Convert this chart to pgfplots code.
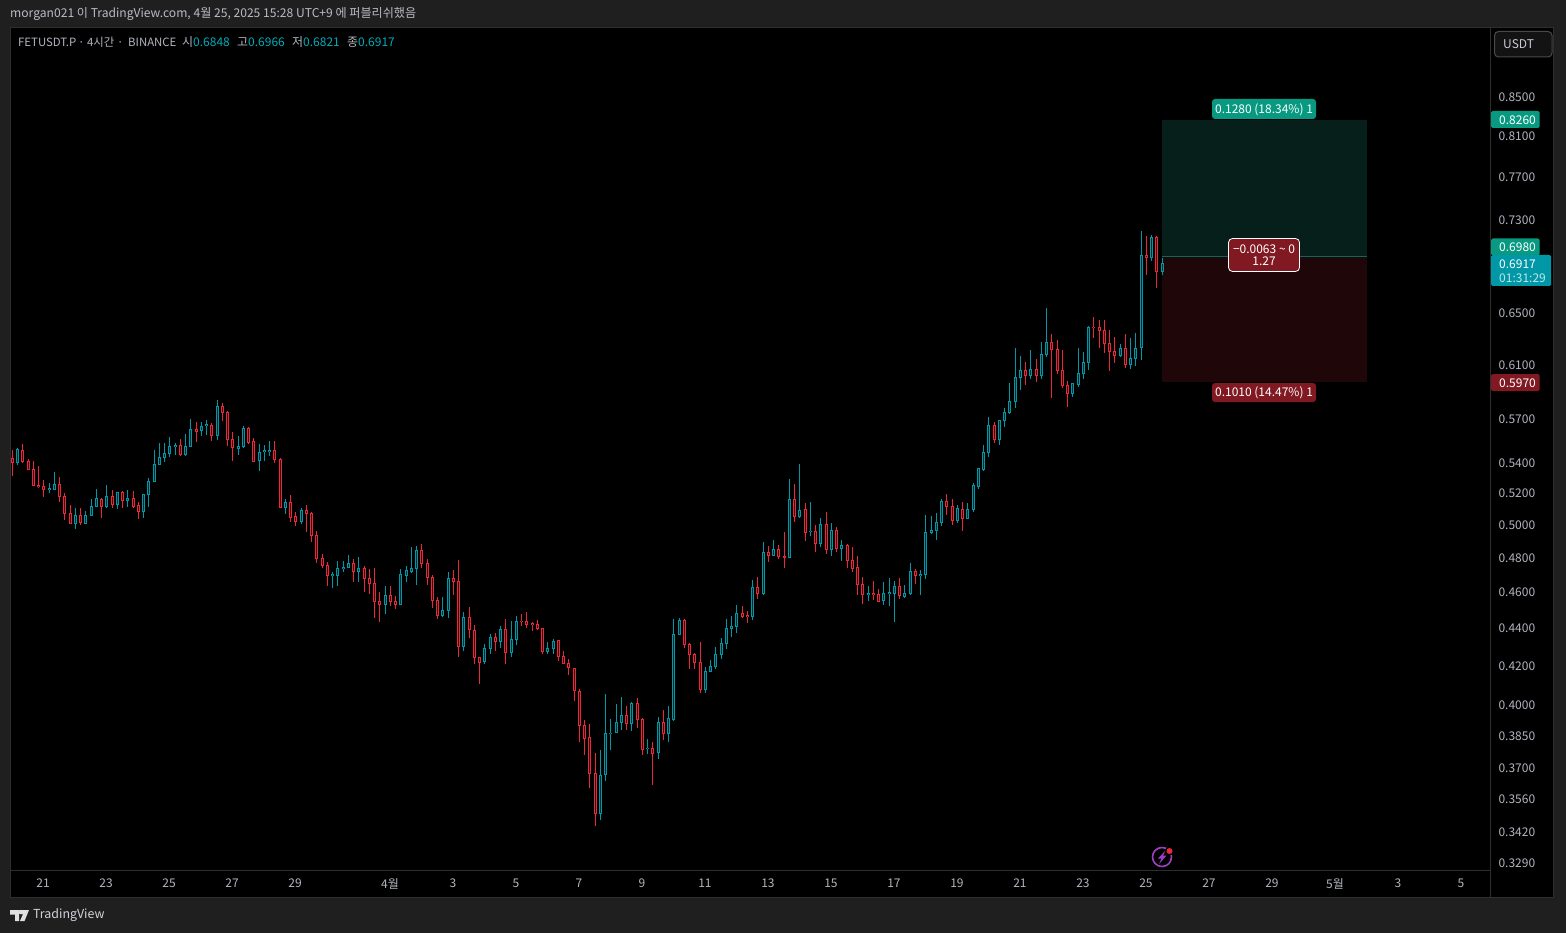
\documentclass[border=0pt]{standalone}
\usepackage{fontspec}
\usepackage{pgfplots}
\usepackage{pgfplotstable}
\pgfplotsset{compat=1.18}
\setmainfont{Noto Sans CJK KR}
\definecolor{frame}{HTML}{1F1F1F}
\definecolor{pane}{HTML}{2E2E2E}
\definecolor{tick}{HTML}{B2B5BE}
\definecolor{up}{HTML}{0097A7}
\definecolor{dn}{HTML}{E9283C}
\definecolor{upin}{HTML}{00262B}
\definecolor{dnin}{HTML}{33080D}
\definecolor{tpz}{HTML}{061F1A}
\definecolor{slz}{HTML}{1F0709}
\definecolor{tp}{HTML}{089981}
\definecolor{sl}{HTML}{801922}
\definecolor{btn}{HTML}{4A4A4A}
\pgfplotstableread{
i o h l c
0 .5432 .5489 .5315 .5403
1 .5403 .5500 .5390 .5493
2 .5487 .5530 .5403 .5408
3 .5412 .5430 .5354 .5359
4 .5359 .5414 .5249 .5251
5 .5255 .5381 .5234 .5245
6 .5247 .5288 .5180 .5225
7 .5225 .5268 .5206 .5232
8 .5227 .5339 .5223 .5260
9 .5260 .5306 .5148 .5182
10 .5182 .5204 .5035 .5072
11 .5074 .5125 .5008 .5010
12 .5010 .5108 .4979 .5062
13 .5062 .5108 .5004 .5014
14 .5010 .5087 .5008 .5062
15 .5062 .5165 .5058 .5118
16 .5116 .5229 .5114 .5170
17 .5163 .5170 .5045 .5116
18 .5116 .5253 .5110 .5182
19 .5182 .5223 .5110 .5127
20 .5129 .5210 .5101 .5208
21 .5210 .5217 .5110 .5155
22 .5157 .5223 .5114 .5170
23 .5170 .5217 .5106 .5116
24 .5125 .5144 .5039 .5085
25 .5085 .5198 .5045 .5195
26 .5193 .5299 .5114 .5279
27 .5277 .5489 .5275 .5392
28 .5390 .5536 .5387 .5439
29 .5437 .5539 .5408 .5466
30 .5464 .5578 .5443 .5513
31 .5511 .5536 .5457 .5520
32 .5520 .5562 .5450 .5455
33 .5457 .5599 .5450 .5513
34 .5513 .5704 .5511 .5632
35 .5632 .5683 .5545 .5615
36 .5622 .5680 .5585 .5652
37 .5659 .5694 .5592 .5662
38 .5659 .5675 .5552 .5587
39 .5589 .5840 .5557 .5793
40 .5793 .5815 .5692 .5749
41 .5751 .5758 .5516 .5559
42 .5559 .5610 .5417 .5507
43 .5498 .5585 .5457 .5513
44 .5511 .5655 .5502 .5638
45 .5638 .5645 .5532 .5543
46 .5548 .5568 .5408 .5414
47 .5419 .5527 .5347 .5473
48 .5480 .5522 .5414 .5482
49 .5478 .5550 .5450 .5487
50 .5487 .5550 .5403 .5423
51 .5425 .5432 .5110 .5112
52 .5112 .5163 .5072 .5144
53 .5144 .5189 .5020 .5047
54 .5056 .5080 .4997 .5025
55 .5020 .5108 .5010 .5093
56 .5093 .5127 .4958 .5072
57 .5074 .5080 .4897 .4936
58 .4938 .4963 .4772 .4797
59 .4799 .4823 .4742 .4756
60 .4758 .4778 .4637 .4698
61 .4698 .4719 .4625 .4702
62 .4698 .4783 .4637 .4741
63 .4739 .4783 .4719 .4743
64 .4744 .4817 .4742 .4770
65 .4770 .4793 .4661 .4721
66 .4721 .4807 .4661 .4741
67 .4741 .4752 .4603 .4680
68 .4682 .4735 .4591 .4651
69 .4653 .4741 .4458 .4549
70 .4551 .4601 .4435 .4532
71 .4532 .4637 .4479 .4584
72 .4584 .4637 .4524 .4549
73 .4551 .4580 .4507 .4532
74 .4532 .4735 .4530 .4702
75 .4700 .4754 .4661 .4725
76 .4719 .4867 .4713 .4741
77 .4739 .4873 .4643 .4847
78 .4847 .4885 .4741 .4768
79 .4770 .4793 .4643 .4686
80 .4688 .4700 .4513 .4554
81 .4556 .4573 .4452 .4470
82 .4470 .4573 .4463 .4500
83 .4498 .4719 .4458 .4682
84 .4682 .4731 .4586 .4665
85 .4665 .4789 .4247 .4303
86 .4303 .4489 .4278 .4461
87 .4461 .4516 .4349 .4394
88 .4390 .4417 .4211 .4244
89 .4245 .4246 .4108 .4218
90 .4223 .4315 .4211 .4294
91 .4292 .4367 .4263 .4353
92 .4353 .4376 .4280 .4331
93 .4331 .4412 .4296 .4396
94 .4396 .4450 .4211 .4270
95 .4270 .4439 .4247 .4342
96 .4340 .4467 .4311 .4439
97 .4439 .4479 .4414 .4435
98 .4439 .4489 .4403 .4421
99 .4426 .4433 .4387 .4423
100 .4423 .4444 .4392 .4399
101 .4401 .4403 .4263 .4276
102 .4276 .4327 .4263 .4294
103 .4292 .4342 .4263 .4331
104 .4333 .4338 .4227 .4249
105 .4251 .4280 .4211 .4212
106 .4214 .4237 .4154 .4192
107 .4187 .4191 .4023 .4073
108 .4070 .4080 .3821 .3901
109 .3902 .3926 .3761 .3837
110 .3844 .3907 .3610 .3675
111 .3676 .3769 .3445 .3498
112 .3498 .3784 .3470 .3667
113 .3670 .4056 .3642 .3863
114 .3861 .3931 .3784 .3865
115 .3866 .4007 .3865 .3917
116 .3915 .4041 .3879 .3950
117 .3950 .3996 .3879 .3910
118 .3910 .4016 .3874 .4010
119 .4010 .4036 .3889 .3930
120 .3931 .3936 .3761 .3786
121 .3790 .3836 .3766 .3793
122 .3792 .3821 .3623 .3770
123 .3771 .3942 .3742 .3917
124 .3917 .3977 .3831 .3861
125 .3861 .3996 .3821 .3936
126 .3930 .4451 .3925 .4368
127 .4366 .4455 .4364 .4444
128 .4444 .4450 .4294 .4312
129 .4314 .4319 .4184 .4259
130 .4261 .4266 .4184 .4216
131 .4218 .4326 .4063 .4077
132 .4077 .4194 .4062 .4172
133 .4170 .4231 .4168 .4198
134 .4196 .4299 .4184 .4261
135 .4261 .4348 .4236 .4319
136 .4317 .4451 .4288 .4400
137 .4398 .4468 .4353 .4411
138 .4411 .4529 .4375 .4483
139 .4483 .4525 .4458 .4465
140 .4469 .4495 .4430 .4465
141 .4465 .4672 .4447 .4630
142 .4630 .4690 .4564 .4594
143 .4594 .4895 .4587 .4835
144 .4835 .4871 .4777 .4815
145 .4815 .4909 .4813 .4853
146 .4853 .4879 .4795 .4809
147 .4811 .4956 .4742 .4805
148 .4805 .5293 .4803 .5163
149 .5163 .5262 .5020 .5053
150 .5053 .5394 .5045 .5093
151 .5099 .5140 .4903 .4954
152 .4960 .5146 .4934 .4964
153 .4962 .5002 .4837 .4887
154 .4887 .5043 .4867 .5006
155 .5006 .5083 .4825 .4851
156 .4851 .5012 .4813 .4969
157 .4969 .4987 .4837 .4857
158 .4857 .4907 .4783 .4877
159 .4877 .4885 .4742 .4785
160 .4787 .4867 .4719 .4738
161 .4746 .4813 .4587 .4645
162 .4647 .4690 .4536 .4588
163 .4590 .4638 .4552 .4596
164 .4596 .4666 .4558 .4590
165 .4590 .4619 .4547 .4550
166 .4554 .4660 .4530 .4596
167 .4594 .4684 .4525 .4598
168 .4594 .4666 .4436 .4636
169 .4636 .4684 .4564 .4583
170 .4577 .4643 .4570 .4596
171 .4594 .4771 .4587 .4723
172 .4723 .4736 .4649 .4698
173 .4698 .4731 .4587 .4705
174 .4703 .5063 .4678 .4956
175 .4954 .5057 .4946 .4969
176 .4967 .5076 .4909 .5018
177 .5017 .5164 .4996 .5152
178 .5152 .5199 .5064 .5117
179 .5119 .5164 .5002 .5029
180 .5029 .5128 .5015 .5107
181 .5100 .5147 .4965 .5041
182 .5041 .5139 .5039 .5100
183 .5096 .5269 .5083 .5250
184 .5244 .5368 .5230 .5361
185 .5355 .5523 .5349 .5473
186 .5471 .5719 .5442 .5660
187 .5660 .5683 .5537 .5558
188 .5558 .5697 .5524 .5695
189 .5692 .5783 .5649 .5752
190 .5747 .5964 .5740 .5830
191 .5828 .6229 .5783 .6006
192 .6001 .6167 .5913 .6058
193 .6058 .6121 .5950 .6018
194 .6018 .6213 .5993 .6066
195 .6066 .6145 .5971 .6018
196 .6016 .6275 .5993 .6180
197 .6178 .6545 .6160 .6273
198 .6273 .6338 .5855 .6216
199 .6218 .6291 .6031 .6054
200 .6058 .6213 .5927 .5942
201 .5947 .5979 .5790 .5887
202 .5887 .5964 .5862 .5962
203 .5952 .6229 .5935 .6036
204 .6034 .6198 .5993 .6119
205 .6116 .6400 .6061 .6390
206 .6390 .6472 .6307 .6385
207 .6390 .6448 .6229 .6364
208 .6366 .6448 .6190 .6262
209 .6265 .6369 .6054 .6200
210 .6203 .6314 .6114 .6170
211 .6170 .6260 .6160 .6226
212 .6226 .6338 .6076 .6101
213 .6101 .6307 .6069 .6150
214 .6147 .6346 .6091 .6226
215 .6230 .7199 .6135 .6985
216 .6985 .7155 .6820 .6965
217 .6965 .7161 .6937 .7143
218 .7143 .7155 .6711 .6845
219 .6848 .6966 .6821 .6917
}\candles
\newcommand\wicks[2]{\addplot[draw=none,mark=none,forget plot,
  error bars/.cd,y dir=plus,y explicit,error mark=none,
  error bar style={draw=#1,line width=1pt}]
  table[x expr={#2?\thisrow{i}:nan},y=l,y error plus expr={\thisrow{h}-\thisrow{l}}]{\candles};}
% #1 colour, #2 condition, #3 column of the body's lower end, #4 of its upper end, #5 style
\newcommand\bodies[5]{\addplot[draw=none,mark=none,forget plot,
  error bars/.cd,y dir=plus,y explicit,error mark=none,
  error bar style={draw=#1,#5}]
  table[x expr={#2?\thisrow{i}:nan},y=#3,y error plus expr={\thisrow{#4}-\thisrow{#3}}]{\candles};}
\begin{document}
\begin{tikzpicture}
\begin{scope}[x=1pt,y=-1pt]
\fill[frame] (0,0) rectangle (1566,933);
\fill[black] (11,28) rectangle (1553,897);
\draw[pane,line width=1pt] (10.5,27.5) rectangle (1553.5,897.5);
\draw[pane,line width=1pt] (1490.5,28) -- (1490.5,897);
\end{scope}
\begin{axis}[at={(11pt,-870pt)},anchor=south west,scale only axis,width=1479pt,height=842pt,
  ymode=log,xmin=-0.248,xmax=281.47,ymin=.32616,ymax=.92587,
  axis background/.style={fill=black},axis line style={draw=pane,line width=1pt},
  axis x line*=bottom,axis y line*=right,
  tick style={draw=none},major tick length=0pt,minor tick length=0pt,
  ytick={.329,.342,.356,.37,.385,.4,.42,.44,.46,.48,.5,.52,.54,.57,.61,.65,.73,.77,.81,.85},
  yticklabels={0.3290,0.3420,0.3560,0.3700,0.3850,0.4000,0.4200,0.4400,0.4600,0.4800,0.5000,0.5200,0.5400,0.5700,0.6100,0.6500,0.7300,0.7700,0.8100,0.8500},
  xtick={5.66,17.66,29.66,41.66,53.66,71.75,83.75,95.75,107.75,119.75,131.75,143.75,155.75,167.75,179.75,191.75,203.75,215.75,227.75,239.75,251.75,263.75,275.75},
  xticklabels={21,23,25,27,29,4월,3,5,7,9,11,13,15,17,19,21,23,25,27,29,5월,3,5},
  ticklabel style={text=tick,font=\fontsize{12}{14}\selectfont},
  yticklabel style={anchor=west,xshift=5pt},
  xticklabel style={anchor=center,yshift=-13.5pt,xshift=1pt},
]
\addplot[fill=tpz,draw=none,forget plot] coordinates {(218.99,.826)(258.1,.826)(258.1,.698)(218.99,.698)} --cycle;
\addplot[fill=slz,draw=none,forget plot] coordinates {(218.99,.698)(258.1,.698)(258.1,.597)(218.99,.597)} --cycle;
\addplot[draw=tp!70!black,line width=1pt,forget plot] coordinates {(218.99,.698)(258.1,.698)};
\wicks{up}{\thisrow{c}>=\thisrow{o}}
\wicks{dn}{\thisrow{c}<\thisrow{o}}
\bodies{up}{\thisrow{c}>=\thisrow{o}}{o}{c}{line width=3pt,shorten >=-.5pt,shorten <=-.5pt}
\bodies{dn}{\thisrow{c}<\thisrow{o}}{c}{o}{line width=3pt,shorten >=-.5pt,shorten <=-.5pt}
\bodies{upin}{\thisrow{c}>=\thisrow{o}}{o}{c}{line width=1pt,shorten >=.5pt,shorten <=.5pt}
\bodies{dnin}{\thisrow{c}<\thisrow{o}}{c}{o}{line width=1pt,shorten >=.5pt,shorten <=.5pt}
\end{axis}
\begin{scope}[x=1pt,y=-1pt]
\tikzset{t/.style={inner sep=0pt,font=\fontsize{12}{14}\selectfont}}
\node[t,anchor=west,text=tick!90!white] at (10,14) {\fontsize{12.1}{14}\selectfont morgan021 이 TradingView.com, 4월 25, 2025 15:28 UTC+9 에 퍼블리쉬했음};
\node[t,anchor=west,text=tick,font=\fontsize{11.4}{14}\selectfont] at (18,42) {FETUSDT.P};
\node[t,anchor=west,text=tick,font=\fontsize{11.4}{14}\selectfont] at (78,42) {· 4시간 ·};
\node[t,anchor=west,text=tick,font=\fontsize{11.4}{14}\selectfont] at (128,42) {BINANCE};
\node[t,anchor=west,text=tick] at (182,42) {시\textcolor{up!80!cyan}{0.6848}};
\node[t,anchor=west,text=tick] at (237,42) {고\textcolor{up!80!cyan}{0.6966}};
\node[t,anchor=west,text=tick] at (292,42) {저\textcolor{up!80!cyan}{0.6821}};
\node[t,anchor=west,text=tick] at (347,42) {종\textcolor{up!80!cyan}{0.6917}};
% USDT button
\draw[btn,fill=frame!60!black,line width=1pt,rounded corners=4pt] (1494.5,31.5) rectangle (1552,57);
\node[t,anchor=west,text=tick!70!white] at (1503,44) {USDT};
% price labels
\fill[tp,rounded corners=1.5pt] (1491,111) rectangle (1539.5,128);
\node[t,anchor=west,text=white] at (1499,120.5) {0.8260};
\fill[tp,rounded corners=1.5pt] (1491,238.5) rectangle (1539.5,255.5);
\node[t,anchor=west,text=white] at (1499,247.5) {0.6980};
\fill[up,rounded corners=1.5pt] (1491,255) rectangle (1551,286);
\node[t,anchor=west,text=white] at (1499,264) {0.6917};
\node[t,anchor=west,text=white!75!up] at (1499,278) {01:31:29};
\fill[sl,rounded corners=1.5pt] (1491,374) rectangle (1539.5,391);
\node[t,anchor=west,text=white] at (1499,383) {0.5970};
% position labels
\fill[tp,rounded corners=3pt] (1212,99) rectangle (1316,119);
\node[t,text=white] at (1264,110) {0.1280 (18.34\%) 1};
\fill[sl,rounded corners=3pt] (1212,383) rectangle (1316,402);
\node[t,text=white] at (1264,393) {0.1010 (14.47\%) 1};
\draw[white,fill=sl,line width=.8pt,rounded corners=4pt] (1228.5,238.5) rectangle (1299.5,271.5);
\node[t,text=white] at (1264,249) {−0.0063 \textasciitilde{} 0};
\node[t,text=white] at (1264,261) {1.27};
% lightning badge
\definecolor{bolt}{HTML}{9C3FC4}
\draw[bolt,line width=1.6pt] (1162,857) circle (9.5);
\fill[bolt] (1165.5,850.5) -- (1158,858.5) -- (1161.5,858.5) -- (1159,864) -- (1166.5,855.5) -- (1163,855.5) -- cycle;
\fill[black] (1169.5,851) circle (4.5);
\fill[dn] (1169.5,851) circle (3);
% TradingView logo
\fill[white!88!black] (10,910) -- (19,910) -- (19,921) -- (15,921) -- (15,914.5) -- (10,914.5) -- cycle;
\fill[white!88!black] (20,910) -- (29,910) -- (24.5,921) -- (20,921) -- (23,914) -- (20,914) -- cycle;
\fill[white!88!black] (20.8,912) circle (2.2);
\node[t,anchor=west,text=tick!60!white,font=\fontsize{12.4}{16}\selectfont] at (33,915.5) {TradingView};
\end{scope}
\end{tikzpicture}
\end{document}
